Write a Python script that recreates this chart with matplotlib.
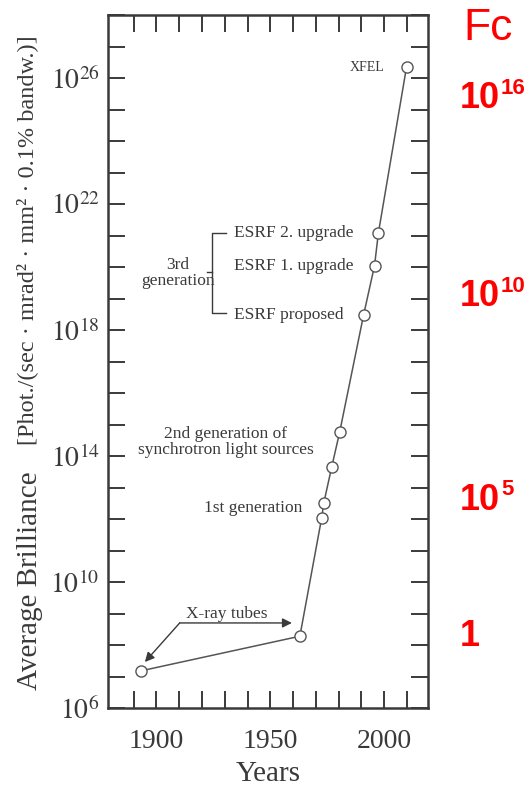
import numpy as np
import matplotlib
matplotlib.use("Agg")
import matplotlib.pyplot as plt
from matplotlib.ticker import FixedLocator, FuncFormatter

# data
years = [1893, 1963, 1972.6, 1973.5, 1977, 1980.5, 1991, 1995.8, 1997.5, 2009.9]
brilliance = [1.5e7, 1.9e8, 1.1e12, 3.2e12, 4.5e13, 5.8e14, 3.0e18, 1.1e20, 1.2e21, 2.3e26]
esrf_labels = ["ESRF 2. upgrade", "ESRF 1. upgrade", "ESRF proposed"]
esrf_idx = [8, 7, 6]
fc_base = ["10", "10", "10", "1"]
fc_exp = ["16", "10", "5", ""]
fc_ypix = [98, 297, 500, 637]

plt.rcParams["font.family"] = ["Liberation Serif", "DejaVu Serif"]
plt.rcParams["mathtext.fontset"] = "stix"

ink = "#3a3a3a"
W, H = 529, 791
fig = plt.figure(figsize=(W / 100, H / 100), dpi=100)
ax = fig.add_axes([108 / W, 1 - 708 / H, 320 / W, 693 / H])

ax.plot(years, brilliance, color="#555555", lw=1.1, marker="o", ms=8,
        mfc="white", mec="#555555", mew=1.0, zorder=3)
ax.set_yscale("log")
ax.set_xlim(1878.7, 2019.3)
ax.set_ylim(1e6, 1e28)

ax.xaxis.set_major_locator(FixedLocator(np.arange(1890, 2020, 10)))
ax.xaxis.set_major_formatter(FuncFormatter(lambda v, p: f"{int(v)}" if v % 50 == 0 else ""))
ax.yaxis.set_major_locator(FixedLocator(10.0 ** np.arange(6, 29)))
ax.yaxis.set_minor_locator(FixedLocator([]))
ax.yaxis.set_major_formatter(FuncFormatter(
    lambda v, p: rf"$10^{{{int(round(np.log10(v)))}}}$" if round(np.log10(v)) % 4 == 2 else ""))
ax.tick_params(which="both", direction="in", length=12, width=1.4, color=ink,
               top=True, right=True, labelsize=20, labelcolor=ink, pad=6)
ax.tick_params(axis="x", pad=15)
for s in ax.spines.values():
    s.set_color(ink)
    s.set_linewidth(1.8)

ax.set_xlabel("Years", fontsize=21, color=ink, labelpad=5)

# y label in two sizes
fig.text(30 / W, 1 - 581 / H, "Average Brilliance", rotation=90, ha="center", va="center",
         fontsize=21, color=ink)
fig.text(27 / W, 1 - 240 / H, "[Phot./(sec · mrad² · mm² · 0.1% bandw.)]", rotation=90,
         ha="center", va="center", fontsize=17.5, color=ink)

# annotations
fs = 12.5
ax.text(2000, 10 ** 26.33, "XFEL", ha="right", va="center", fontsize=10, color=ink)
for lab, i in zip(esrf_labels, esrf_idx):
    ax.text(1934.2, brilliance[i], lab, ha="left", va="center", fontsize=fs, color=ink)
# bracket for 3rd generation
bx, bx2, bxl = 1924.6, 1930.7, 1922.0
y_top, y_bot, y_mid = 10 ** 21.08, 10 ** 18.55, 10 ** 19.84
ax.plot([bx2, bx, bx, bx2], [y_top, y_top, y_bot, y_bot], color=ink, lw=1.0)
ax.plot([bxl, bx], [y_mid, y_mid], color=ink, lw=1.0)
ax.text(1909.3, 10 ** 19.81, "3rd\ngeneration", ha="center", va="center", fontsize=fs,
        color=ink, linespacing=0.95)
ax.text(1930.5, 10 ** 14.45, "2nd generation of\nsynchrotron light sources", ha="center",
        va="center", fontsize=fs, color=ink, linespacing=0.95)
ax.text(1964, 10 ** 12.35, "1st generation", ha="right", va="center", fontsize=fs, color=ink)

# X-ray tubes with arrows
ax.text(1931, 10 ** 8.74, "X-ray tubes", ha="center", va="bottom", fontsize=fs, color=ink)
ax.annotate("", xy=(1894.9, 10 ** 7.46), xytext=(1910.2, 10 ** 8.70),
            arrowprops=dict(arrowstyle="-|>", color=ink, lw=1.0, mutation_scale=14,
                            shrinkA=0, shrinkB=0))
ax.annotate("", xy=(1959.5, 10 ** 8.70), xytext=(1910.2, 10 ** 8.70),
            arrowprops=dict(arrowstyle="-|>", color=ink, lw=1.0, mutation_scale=14,
                            shrinkA=0, shrinkB=0))

# red Fc column
fig.text(488 / W, 1 - 28 / H, "Fc", ha="center", va="center", fontsize=32, color="red",
         family="Liberation Sans")
renderer = fig.canvas.get_renderer()
for b, e, yp in zip(fc_base, fc_exp, fc_ypix):
    t = fig.text(460 / W, 1 - yp / H, b, ha="left", va="center", fontsize=26, color="red",
                 family="Liberation Sans", weight="bold")
    bb = t.get_window_extent(renderer)
    if e:
        fig.text(bb.x1 / W + 1 / W, 1 - (yp - 10) / H, e, ha="left", va="center",
                 fontsize=16, color="red", family="Liberation Sans", weight="bold")

fig.savefig("out.png", dpi=100)
